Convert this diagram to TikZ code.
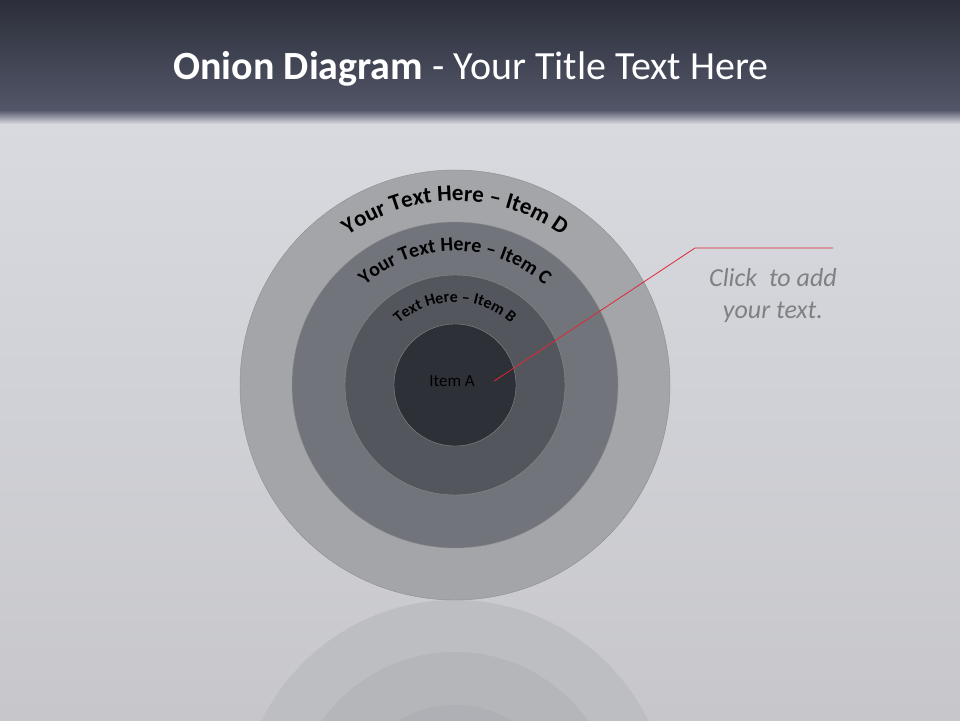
\documentclass[tikz,border=0pt]{standalone}
\usepackage{fontspec}
\setmainfont{Carlito}
\usetikzlibrary{positioning,calc,decorations.text}
\definecolor{barTop}{RGB}{44,47,58}
\definecolor{barBot}{RGB}{82,86,104}
\definecolor{bgTop}{RGB}{216,218,224}
\definecolor{bgBot}{RGB}{199,199,203}
\definecolor{ringD}{RGB}{164,165,169}
\definecolor{ringC}{RGB}{114,116,124}
\definecolor{ringB}{RGB}{84,86,94}
\definecolor{ringA}{RGB}{46,48,56}
\definecolor{reflD}{RGB}{189,190,194}
\definecolor{reflC}{RGB}{181,182,186}
\definecolor{reflB}{RGB}{175,176,181}
\definecolor{callR}{RGB}{222,40,52}
\definecolor{noteG}{RGB}{128,128,132}

\begin{document}
\begin{tikzpicture}[x=1pt, y=1pt,
  ring/.style={circle, draw=black!45, line width=0.4pt, inner sep=0},
  refl/.style={circle, inner sep=0},
  arctext/.style={decorate, decoration={text along path, text align=center, text color=black}}]
  \useasboundingbox (0,0) rectangle (960,720);
  % background and title bar
  \shade[top color=bgTop, bottom color=bgBot] (0,0) rectangle (960,600);
  \fill[bgTop] (0,600) rectangle (960,605);
  \shade[top color=barBot, bottom color=bgTop] (0,596) rectangle (960,610);
  \shade[top color=barTop, bottom color=barBot] (0,610) rectangle (960,720);
  \node[text=white, font=\fontsize{40}{46}\selectfont] (title) at (471,651)
    {\textbf{Onion Diagram} - Your Title Text Here};
  % reflection
  \begin{scope}
    \clip (0,0) rectangle (960,120);
    \node[refl, fill=reflD, minimum size=430] (rD) at (455,-95) {};
    \node[refl, fill=reflC, minimum size=326] (rC) at (rD) {};
    \node[refl, fill=reflB, minimum size=220] (rB) at (rD) {};
  \end{scope}
  % onion rings
  \coordinate (c) at (455,335);
  \node[ring, fill=ringD, minimum size=430] (D) at (c) {};
  \node[ring, fill=ringC, minimum size=326] (C) at (c) {};
  \node[ring, fill=ringB, minimum size=220] (B) at (c) {};
  \node[ring, fill=ringA, minimum size=122] (A) at (c) {};
  \node[font=\fontsize{17}{20}\selectfont, text=black] (lblA) at (452,339) {Item A};
  \path[arctext, decoration={text={|\fontsize{23}{26}\bfseries|Your Text Here – Item D}}]
    ($(c)+(180:184)$) arc[start angle=180, end angle=0, radius=184];
  \path[arctext, decoration={text={|\fontsize{20}{23}\bfseries|Your Text Here – Item C}}]
    ($(c)+(180:134)$) arc[start angle=180, end angle=0, radius=134];
  \path[arctext, decoration={text={|\fontsize{16}{19}\bfseries|Text Here – Item B}}]
    ($(c)+(180:83)$) arc[start angle=180, end angle=0, radius=83];
  % callout
  \coordinate[right=16 of lblA] (tip);
  \coordinate (knee) at (695,472);
  \coordinate (tail) at (833,472);
  \draw[callR, line width=0.8pt] (tip) -- (knee) -- (tail);
  \node[text=noteG, align=center, font=\fontsize{26}{32}\selectfont\itshape,
    below=17 of tail, xshift=-60] (note) {Click\ \ to add\\your text.};
\end{tikzpicture}
\end{document}
